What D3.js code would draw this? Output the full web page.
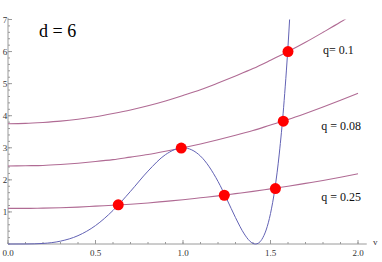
<!DOCTYPE html>
<html>
  <head>
    <style>
      body { margin: 0; background: #fff; }
      text { font-family: "Liberation Serif", "DejaVu Serif", serif; }
    </style>
    <script src="https://d3js.org/d3.v7.min.js"></script>
  </head>
  <body>
    <div id="chart"></div>
    <script type="text/javascript">
      // values
      var vGrid = [0, 0.1, 0.2, 0.3, 0.4, 0.5, 0.6, 0.7, 0.8, 0.9, 1.0,
                   1.1, 1.2, 1.3, 1.4, 1.5, 1.6, 1.7, 1.8, 1.9, 2.0];
      var q01  = [3.75, 3.76, 3.79, 3.83, 3.89, 3.97, 4.07, 4.18, 4.31, 4.46, 4.63,
                  4.81, 5.02, 5.24, 5.47, 5.73, 6.00, 6.29, 6.60, 6.92, 7.27];
      var q008 = [2.43, 2.44, 2.45, 2.48, 2.52, 2.57, 2.63, 2.71, 2.79, 2.89, 3.00,
                  3.12, 3.25, 3.39, 3.54, 3.71, 3.88, 4.07, 4.27, 4.48, 4.70];
      var q025 = [1.11, 1.11, 1.12, 1.13, 1.15, 1.18, 1.21, 1.24, 1.28, 1.33, 1.38,
                  1.44, 1.50, 1.57, 1.64, 1.72, 1.80, 1.89, 1.98, 2.08, 2.19];
      var blueV = [0, 0.1, 0.2, 0.3, 0.4, 0.5, 0.6, 0.7, 0.8, 0.9, 1.0, 1.1, 1.2,
                   1.25, 1.3, 1.35, 1.38, 1.4, 1.414, 1.43, 1.45, 1.5, 1.525, 1.55, 1.575, 1.6, 1.62];
      var blueY = [0, 0.001, 0.018, 0.089, 0.26, 0.574, 1.046, 1.642, 2.273, 2.787, 3.0, 2.741, 1.951,
                   1.402, 0.823, 0.314, 0.099, 0.018, 0, 0.025, 0.139, 0.949, 1.72, 2.805, 4.264, 6.166, 8.056];
      var dotsV = [0.63, 0.99, 1.236, 1.528, 1.573, 1.60];
      var dotsY = [1.22, 2.99, 1.52, 1.73, 3.83, 6.0];
      var labels = ["q= 0.1", "q = 0.08", "q = 0.25"];
      var labelV = [1.80, 1.79, 1.79];
      var labelY = [5.93, 3.55, 1.34];
      var xTicks = [0, 0.5, 1.0, 1.5, 2.0];
      var yTicks = [1, 2, 3, 4, 5, 6, 7];

      var width = 382, height = 262;
      var x = d3.scaleLinear().domain([0, 2]).range([8, 358]);
      var y = d3.scaleLinear().domain([0, 7]).range([244, 19.5]);

      var svg = d3.select("#chart").append("svg")
        .attr("width", width)
        .attr("height", height);

      svg.append("clipPath").attr("id", "plot")
        .append("rect")
        .attr("x", x(0)).attr("y", y(7))
        .attr("width", x(2.05) - x(0)).attr("height", y(0) - y(7) + 1);

      var axisCol = "#9a9a9a";
      // x axis
      var gx = svg.append("g").attr("transform", "translate(0," + y(0) + ")");
      gx.append("line").attr("x1", x(0)).attr("x2", x(2.05))
        .attr("stroke", axisCol);
      gx.selectAll(".minor").data(d3.range(0, 2.01, 0.1)).enter().append("line")
        .attr("x1", function(d){ return x(d); }).attr("x2", function(d){ return x(d); })
        .attr("y1", 0).attr("y2", -2).attr("stroke", axisCol);
      gx.selectAll(".major").data(xTicks).enter().append("line")
        .attr("x1", function(d){ return x(d); }).attr("x2", function(d){ return x(d); })
        .attr("y1", 0).attr("y2", -4).attr("stroke", axisCol);
      gx.selectAll("text").data(xTicks).enter().append("text")
        .attr("x", function(d){ return x(d); }).attr("y", 12)
        .attr("text-anchor", "middle").attr("font-size", 9).attr("fill", "#333")
        .text(function(d){ return d3.format(".1f")(d); });
      svg.append("text").attr("x", 373).attr("y", 245)
        .attr("font-size", 9).attr("fill", "#333").text("v");

      // y axis
      var gy = svg.append("g").attr("transform", "translate(" + x(0) + ",0)");
      gy.append("line").attr("y1", y(0)).attr("y2", y(7.05))
        .attr("stroke", axisCol);
      gy.selectAll(".minor").data(d3.range(0, 7.01, 0.2)).enter().append("line")
        .attr("y1", function(d){ return y(d); }).attr("y2", function(d){ return y(d); })
        .attr("x1", 0).attr("x2", 2).attr("stroke", axisCol);
      gy.selectAll(".major").data(yTicks).enter().append("line")
        .attr("y1", function(d){ return y(d); }).attr("y2", function(d){ return y(d); })
        .attr("x1", 0).attr("x2", 4).attr("stroke", axisCol);
      gy.selectAll("text").data(yTicks).enter().append("text")
        .attr("x", -3).attr("y", function(d){ return y(d) + 3; })
        .attr("text-anchor", "middle").attr("font-size", 9).attr("fill", "#333")
        .text(function(d){ return d; });

      var line = d3.line().curve(d3.curveMonotoneX)
        .x(function(d){ return x(d[0]); })
        .y(function(d){ return y(d[1]); });

      var g = svg.append("g").attr("clip-path", "url(#plot)");
      [q01, q008, q025].forEach(function(s) {
        g.append("path")
          .attr("d", line(vGrid.map(function(v, i){ return [v, s[i]]; })))
          .attr("fill", "none").attr("stroke", "#b06b94").attr("stroke-width", 1.1);
      });
      g.append("path")
        .attr("d", line(blueV.map(function(v, i){ return [v, blueY[i]]; })))
        .attr("fill", "none").attr("stroke", "#6262b4").attr("stroke-width", 1);

      svg.selectAll(".dot").data(dotsV).enter().append("circle")
        .attr("cx", function(d){ return x(d); })
        .attr("cy", function(d, i){ return y(dotsY[i]); })
        .attr("r", 5.5).attr("fill", "#ff0000");

      svg.selectAll(".lab").data(labels).enter().append("text")
        .attr("x", function(d, i){ return x(labelV[i]); })
        .attr("y", function(d, i){ return y(labelY[i]); })
        .attr("font-size", 12).attr("fill", "#111")
        .text(function(d){ return d; });

      svg.append("text").attr("x", 39).attr("y", 37)
        .attr("font-size", 18).attr("fill", "#000").text("d = 6");
    </script>
  </body>
</html>
